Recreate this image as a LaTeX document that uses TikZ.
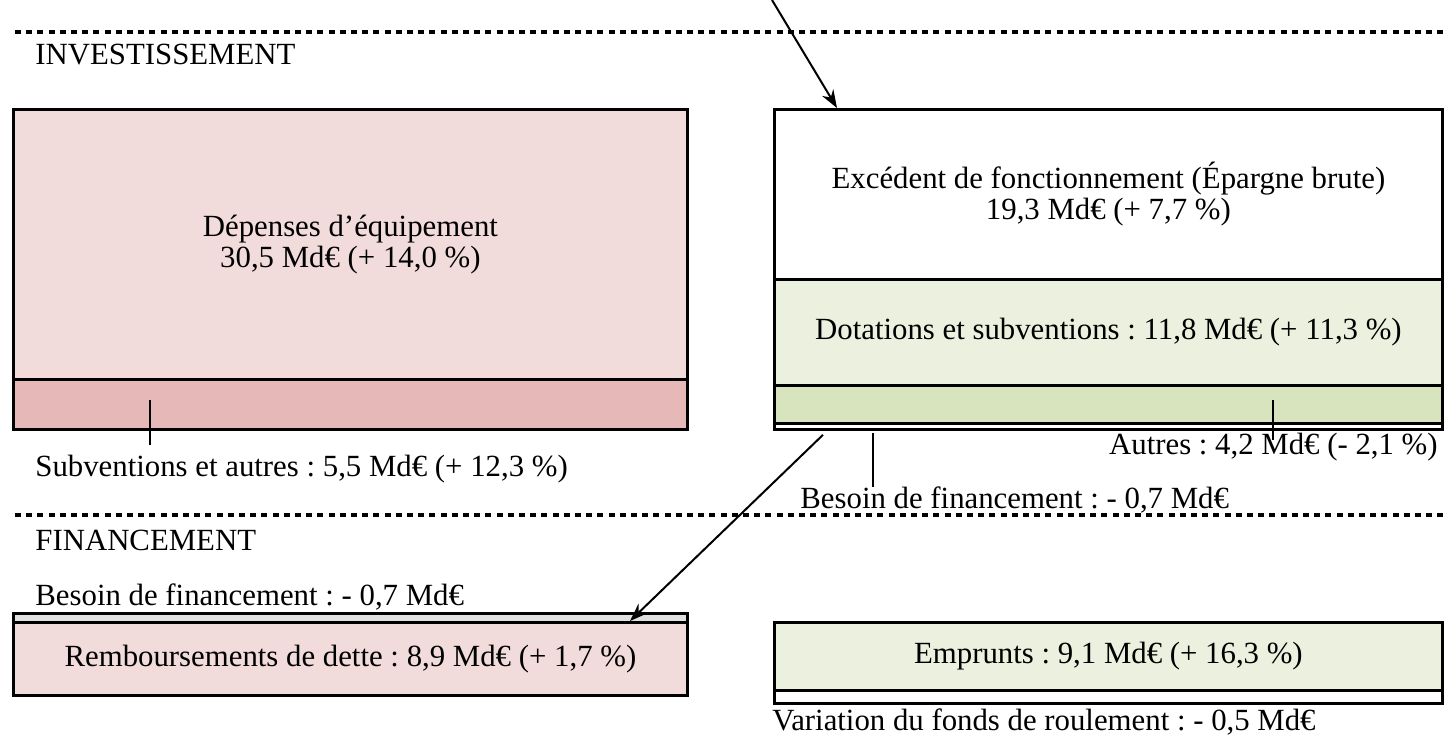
\documentclass[tikz,border=0pt]{standalone}
\usepackage{fontspec}
\setmainfont{Liberation Serif}
\usetikzlibrary{arrows.meta}
\definecolor{roseclair}{HTML}{F2DCDB}
\definecolor{rosefonce}{HTML}{E6B9B8}
\definecolor{vertclair}{HTML}{EBF1DE}
\definecolor{vertfonce}{HTML}{D7E4BD}
\frenchspacing
\begin{document}
\begin{tikzpicture}[x=0.5pt, y=-0.5pt, font=\fontsize{15.4}{15.6}\selectfont,
    bloc/.style={draw, line width=1.4pt, inner sep=0pt, anchor=north west, align=center},
    etiq/.style={inner sep=0pt},
    separ/.style={line width=2pt, dash pattern=on 3pt off 2.6pt},
    trait/.style={line width=0.8pt},
    fleche/.style={line width=1pt, -{Stealth[length=9pt, width=6.5pt]}}]
\useasboundingbox (0,0) rectangle (1444,735);

% separateurs
\draw[separ] (15,32) -- (1444,32);
\draw[separ] (15,515) -- (1444,515);
\node[etiq, anchor=west] (invest) at (35,55) {INVESTISSEMENT};
\node[etiq, anchor=west] (finance) at (35,540) {FINANCEMENT};

% investissement : emplois
\node[bloc, fill=roseclair, minimum width=337pt, minimum height=135pt] (depenses) at (12,108)
    {Dépenses d’équipement\\30,5 Md€ (+ 14,0 \%)};
\node[bloc, fill=rosefonce, minimum width=337pt, minimum height=25pt] (subv) at (12,378) {};
\node[etiq, anchor=west] (subvlbl) at (35,469) {Subventions et autres : 5,5 Md€ (+ 12,3 \%)};
\coordinate (subvpt) at (150,400);
\draw[trait] (subvpt) -- (subvpt |- 0,445);

% investissement : ressources
\node[bloc, fill=white, minimum width=334pt, minimum height=85pt] (excedent) at (773,108)
    {Excédent de fonctionnement (Épargne brute)\\19,3 Md€ (+ 7,7 \%)};
\node[bloc, fill=vertclair, minimum width=334pt, minimum height=53pt] (dotations) at (773,278)
    {Dotations et subventions : 11,8 Md€ (+ 11,3 \%)};
\node[bloc, fill=vertfonce, minimum width=334pt, minimum height=19pt] (autres) at (773,384) {};
\node[bloc, fill=white, minimum width=334pt, minimum height=3pt] (besoinbar) at (773,422) {};
\node[etiq, anchor=east] (autreslbl) at (1438,447) {Autres : 4,2 Md€ (- 2,1 \%)};
\node[etiq, anchor=west] (besoinlbl) at (800,500) {Besoin de financement : - 0,7 Md€};
\coordinate (autrespt) at (1273,400);
\draw[trait] (autrespt) -- (autrespt |- 0,440);
\coordinate (besoinpt) at (873,433);
\draw[trait] (besoinpt) -- (besoinpt |- 0,487);

% financement
\node[etiq, anchor=west] (besoin2lbl) at (35,597) {Besoin de financement : - 0,7 Md€};
\node[bloc, fill=black!12, minimum width=337pt, minimum height=4.5pt] (besoin2bar) at (12,612) {};
\node[bloc, fill=roseclair, minimum width=337pt, minimum height=36.5pt] (rembours) at (12,621)
    {Remboursements de dette : 8,9 Md€ (+ 1,7 \%)};
\node[bloc, fill=vertclair, minimum width=334pt, minimum height=34pt] (emprunts) at (773,621)
    {Emprunts : 9,1 Md€ (+ 16,3 \%)};
\node[bloc, fill=white, minimum width=334pt, minimum height=6.5pt] (fdrbar) at (773,689) {};
\node[etiq, anchor=west] (fdrlbl) at (772,722) {Variation du fonds de roulement : - 0,5 Md€};

% fleches
\coordinate (haut) at (772,0);
\draw[fleche] (haut) -- ([xshift=32pt]excedent.north west);
\draw[fleche] ([xshift=25pt, yshift=-2pt]besoinbar.south west) -- ([xshift=309pt]rembours.north west);
\end{tikzpicture}
\end{document}
